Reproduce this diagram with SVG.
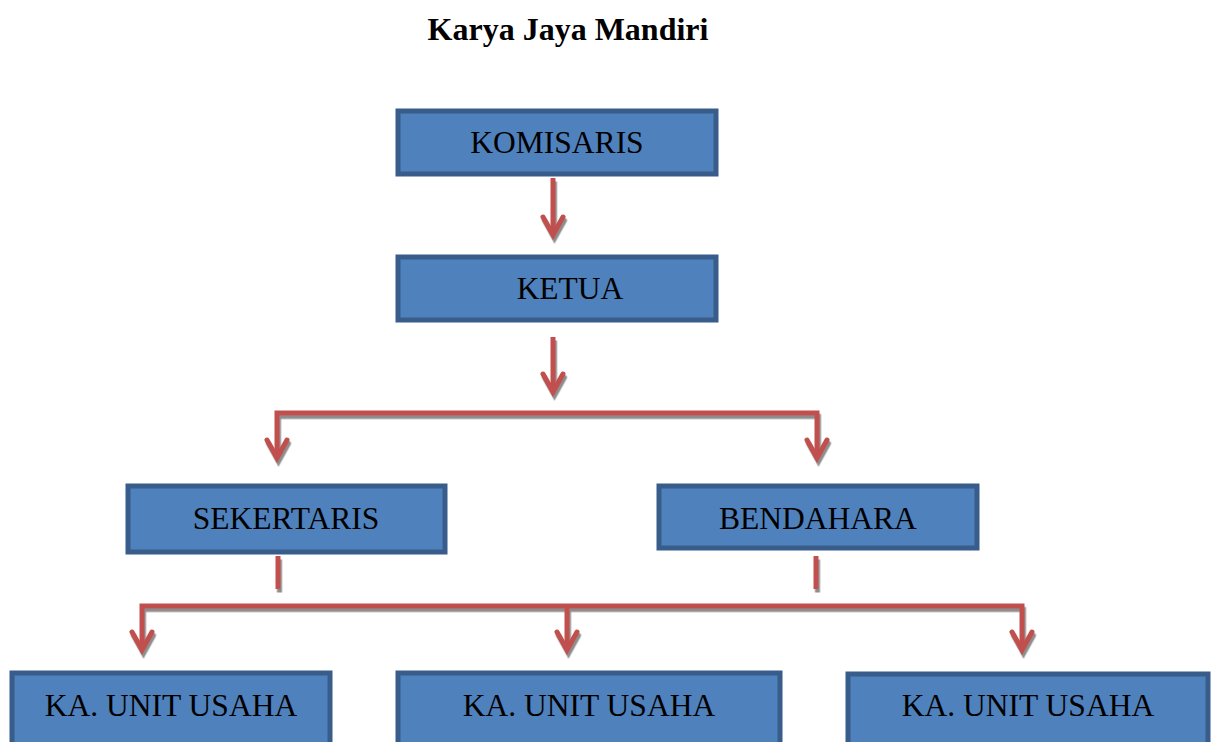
<svg xmlns="http://www.w3.org/2000/svg" width="1211" height="742" viewBox="0 0 1211 742">
  <style>
    .box { fill: #4F81BD; stroke: #385D8A; stroke-width: 5; }
    .lbl { font-family: "Liberation Serif", "Times New Roman", serif; font-size: 31.5px; fill: #000; text-anchor: middle; }
    .title { font-family: "Liberation Serif", "Times New Roman", serif; font-size: 32px; font-weight: bold; fill: #000; text-anchor: middle; }
    .con { fill: none; stroke: #C0504D; stroke-width: 5; stroke-linecap: butt; stroke-linejoin: miter; }
    .head { fill: none; stroke: #C0504D; stroke-width: 5; stroke-linecap: round; stroke-linejoin: miter; }
  </style>
  <defs>
    <filter id="sh" x="-20%" y="-20%" width="140%" height="160%">
      <feDropShadow dx="1.5" dy="3.5" stdDeviation="0.6" flood-color="#808080" flood-opacity="0.9"/>
    </filter>
  </defs>
  <rect width="1211" height="742" fill="#ffffff"/>
  <text class="title" x="568" y="40">Karya Jaya Mandiri</text>

  <g id="connectors" filter="url(#sh)">
    <path class="con" d="M553,178 V235"/>
    <path class="head" d="M543,217 L553,235 L563,217"/>
    <path class="con" d="M553,337 V391"/>
    <path class="head" d="M543,374 L553,392 L563,374"/>
    <path class="con" d="M277,458 V413 H817 V458"/>
    <path class="head" d="M267,440 L277,458 L287,440"/>
    <path class="head" d="M807,440 L817,458 L827,440"/>
    <path class="con" d="M278,556 V589"/>
    <path class="con" d="M816,556 V589"/>
    <path class="con" d="M142,650 V606 H1022 V650"/>
    <path class="con" d="M567,606 V650"/>
    <path class="head" d="M132,632 L142,650 L152,632"/>
    <path class="head" d="M557,632 L567,650 L577,632"/>
    <path class="head" d="M1012,632 L1022,650 L1032,632"/>
  </g>

  <g id="komisaris">
    <rect class="box" x="398" y="111" width="318" height="63"/>
    <text class="lbl" x="557" y="153">KOMISARIS</text>
  </g>
  <g id="ketua">
    <rect class="box" x="398" y="257" width="318" height="63"/>
    <text class="lbl" x="570" y="299">KETUA</text>
  </g>
  <g id="sekertaris">
    <rect class="box" x="128" y="486" width="317" height="66"/>
    <text class="lbl" x="286" y="529">SEKERTARIS</text>
  </g>
  <g id="bendahara">
    <rect class="box" x="659" y="486" width="318" height="62"/>
    <text class="lbl" x="818" y="529">BENDAHARA</text>
  </g>
  <g id="unit1">
    <rect class="box" x="12" y="673" width="318" height="90"/>
    <text class="lbl" x="171" y="716">KA. UNIT USAHA</text>
  </g>
  <g id="unit2">
    <rect class="box" x="398" y="673" width="382" height="90"/>
    <text class="lbl" x="589" y="716">KA. UNIT USAHA</text>
  </g>
  <g id="unit3">
    <rect class="box" x="848" y="674" width="360" height="90"/>
    <text class="lbl" x="1028" y="716">KA. UNIT USAHA</text>
  </g>
</svg>
